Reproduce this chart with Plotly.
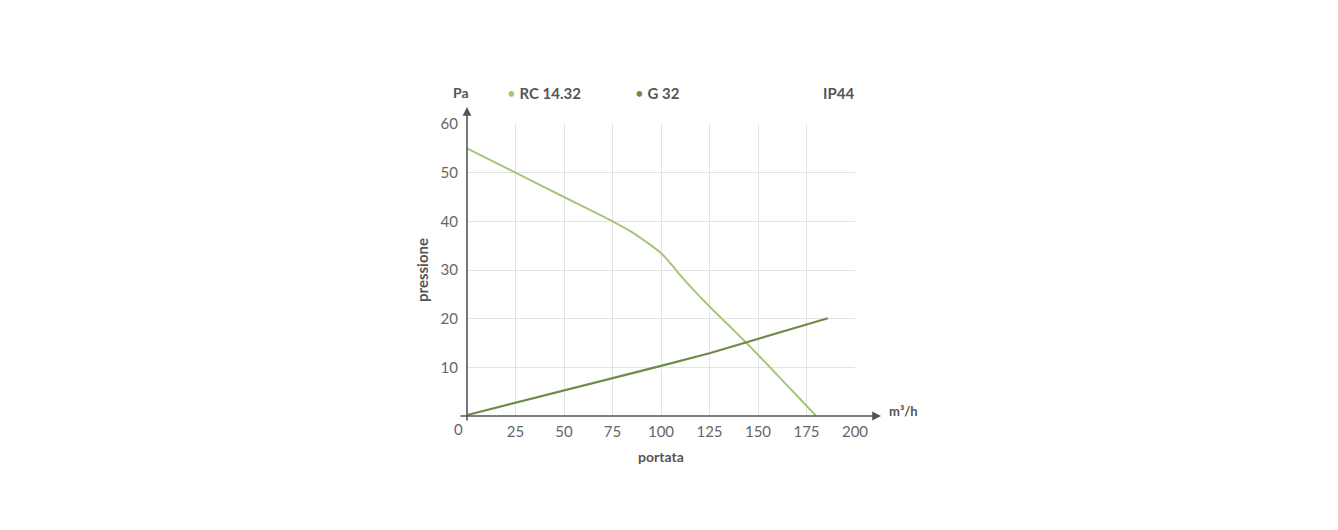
import plotly.graph_objects as go

# Data
rc_x = [0, 25, 50, 75, 85, 93, 100, 105, 110, 117, 125, 135, 143.8, 150, 160, 170, 180]
rc_y = [55, 50.0, 45.0, 40.0, 37.8, 35.6, 33.5, 31.3, 28.9, 25.8, 22.5, 18.6, 15.1, 12.6, 8.4, 4.2, 0]
g_x = [0, 25, 50, 75, 100, 125, 143.8, 150, 175, 186]
g_y = [0.2, 2.7, 5.2, 7.7, 10.3, 12.9, 15.1, 15.8, 18.8, 20.1]
x_ticks = [25, 50, 75, 100, 125, 150, 175, 200]
y_ticks = [10, 20, 30, 40, 50, 60]
series_names = ["RC 14.32", "G 32"]
badge = "IP44"

C_RC = "#a3c77a"
C_G = "#6f8a4a"
TXT = "#555555"
FONT = "Lato"

fig = go.Figure()
fig.add_trace(go.Scatter(x=rc_x, y=rc_y, mode="lines", name=series_names[0],
                         line=dict(color=C_RC, width=2, shape="spline", smoothing=0.6),
                         cliponaxis=False))
fig.add_trace(go.Scatter(x=g_x, y=g_y, mode="lines", name=series_names[1],
                         line=dict(color=C_G, width=2.2),
                         cliponaxis=False))

W, H = 1338, 530
OFF = 8  # page body offset in the screenshot
PL, PR, PT, PB = 467, 855, 124, 416  # plot area in screenshot pixels
L = PL - OFF
T = PT - OFF
pw = PR - PL
ph = PB - PT
R = W - L - pw
B = H - T - ph


def px_x(p):
    return (p - PL) / pw


def px_y(p):
    return (PB - p) / ph


fig.update_layout(
    width=W, height=H,
    margin=dict(l=L, r=R, t=T, b=B, pad=0),
    paper_bgcolor="white", plot_bgcolor="white",
    showlegend=False,
    font=dict(family=FONT, color=TXT, size=14),
    xaxis=dict(range=[0, 200], tickvals=x_ticks, showgrid=True, gridcolor="#e3e3e3",
               gridwidth=1, zeroline=False, showline=False, ticks="",
               tickfont=dict(size=15, color="#666666"), ticklabelstandoff=5),
    yaxis=dict(range=[0, 60], tickvals=y_ticks, showgrid=True, gridcolor="#e3e3e3",
               gridwidth=1, zeroline=False, showline=False, ticks="",
               tickfont=dict(size=15, color="#666666"), ticklabelstandoff=8),
)

ann = []
# axis arrows
ann.append(dict(xref="paper", yref="paper", x=px_x(881), y=px_y(416), axref="pixel", ayref="pixel",
                ax=-(881 - 459), ay=0, showarrow=True, arrowhead=2, arrowsize=1.1,
                arrowwidth=1.6, arrowcolor=TXT, text=""))
ann.append(dict(xref="paper", yref="paper", x=px_x(467), y=px_y(107), axref="pixel", ayref="pixel",
                ax=0, ay=(422 - 107), showarrow=True, arrowhead=2, arrowsize=1.1,
                arrowwidth=1.6, arrowcolor=TXT, text=""))
# x tick 0
ann.append(dict(xref="paper", yref="paper", x=px_x(458), y=px_y(429), text="0", showarrow=False,
                xanchor="center", yanchor="middle", font=dict(size=15, color="#666666")))
# labels
ann.append(dict(xref="paper", yref="paper", x=px_x(461), y=px_y(93), text="<b>Pa</b>", showarrow=False,
                xanchor="center", yanchor="middle", font=dict(size=14, color=TXT)))
ann.append(dict(xref="paper", yref="paper", x=px_x(505), y=px_y(93),
                text=f"<span style='color:{C_RC}'>•</span> <b>{series_names[0]}</b>", showarrow=False,
                xanchor="left", yanchor="middle", font=dict(size=15, color=TXT)))
ann.append(dict(xref="paper", yref="paper", x=px_x(633), y=px_y(93),
                text=f"<span style='color:{C_G}'>•</span> <b>{series_names[1]}</b>", showarrow=False,
                xanchor="left", yanchor="middle", font=dict(size=15, color=TXT)))
ann.append(dict(xref="paper", yref="paper", x=px_x(856), y=px_y(93), text=f"<b>{badge}</b>", showarrow=False,
                xanchor="right", yanchor="middle", font=dict(size=15, color=TXT)))
ann.append(dict(xref="paper", yref="paper", x=px_x(887), y=px_y(411), text="<b>m³/h</b>", showarrow=False,
                xanchor="left", yanchor="middle", font=dict(size=13, color=TXT)))
ann.append(dict(xref="paper", yref="paper", x=px_x(661), y=px_y(456), text="<b>portata</b>", showarrow=False,
                xanchor="center", yanchor="middle", font=dict(size=14, color=TXT)))
ann.append(dict(xref="paper", yref="paper", x=px_x(422), y=px_y(270), text="<b>pressione</b>", showarrow=False,
                textangle=-90, xanchor="center", yanchor="middle", font=dict(size=15, color=TXT)))
fig.update_layout(annotations=ann)

fig.write_html("out.html")
